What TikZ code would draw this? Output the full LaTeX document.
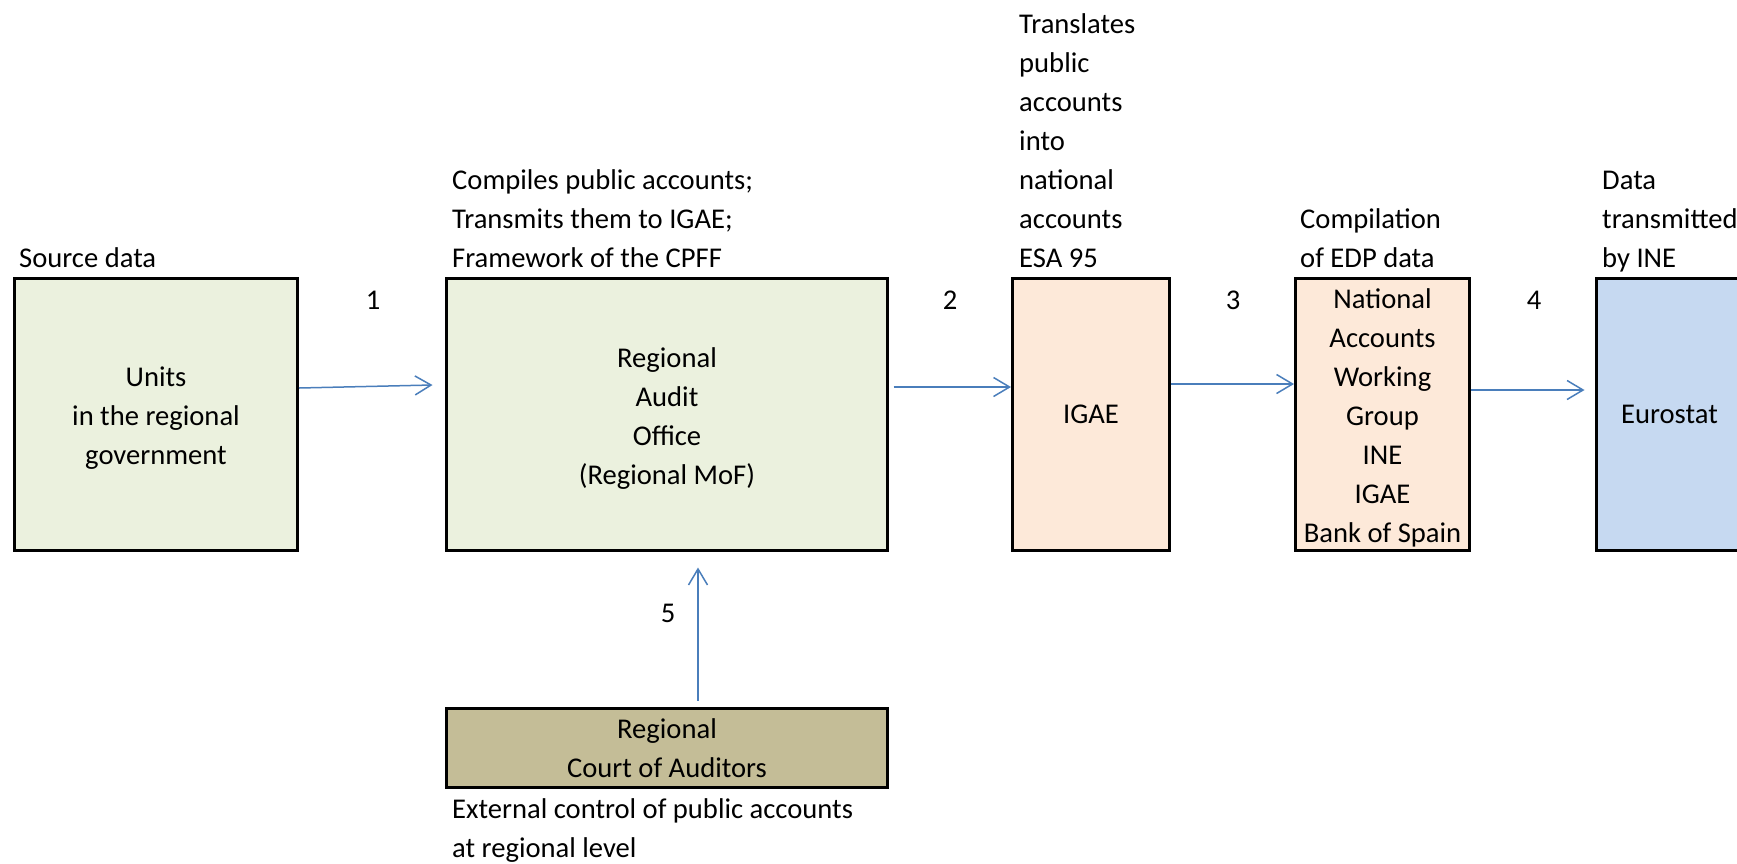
\documentclass[tikz,border=0pt]{standalone}
\usepackage{fontspec}
\setmainfont{Carlito}
\usetikzlibrary{arrows.meta,calc}
\definecolor{greenbox}{HTML}{EBF1DE}
\definecolor{peachbox}{HTML}{FDE9D9}
\definecolor{bluebox}{HTML}{C6D9F1}
\definecolor{courtbox}{HTML}{C4BD97}
\definecolor{arrowblue}{HTML}{4A7EBB}
\newcommand{\tallstrut}{\rule{0pt}{27pt}}
\begin{document}
\begin{tikzpicture}[x=1pt,y=-1pt,
  every node/.style={font=\fontsize{28.6}{39}\selectfont},
  box/.style={draw=black,line width=3pt,inner sep=0pt,align=center},
  lbl/.style={align=left,anchor=base west,inner sep=0pt},
  num/.style={inner sep=0pt},
  arr/.style={draw=arrowblue,line width=1.5pt,-{Straight Barb[length=16pt,width=19pt]}}]
\useasboundingbox (0,0) rectangle (1737,863);
\fill[white] (0,0) rectangle (1737,863);
% boxes
\node[box,fill=greenbox,minimum width=283pt,minimum height=272pt] (u) at (156,414.5) {\tallstrut Units\\in the regional\\government};
\node[box,fill=greenbox,minimum width=441pt,minimum height=272pt] (ro) at (667,414.5) {\tallstrut Regional\\Audit\\Office\\(Regional MoF)};
\node[box,fill=peachbox,minimum width=157pt,minimum height=272pt] (igae) at (1091,414.5) {IGAE};
\node[box,fill=peachbox,minimum width=174pt,minimum height=272pt] (nawg) at (1382.5,414.5) {\tallstrut National\\Accounts\\Working\\Group\\INE\\IGAE\\Bank of Spain};
\node[box,fill=bluebox,minimum width=146pt,minimum height=272pt] (euro) at (1669.5,414.5) {Eurostat};
\node[box,fill=courtbox,minimum width=441pt,minimum height=79pt] (court) at (667,748) {Regional\\Court of Auditors};
% descriptive texts (base anchor = last line)
\node[lbl] (t1) at (19,267) {Source data};
\node[lbl] (t2) at (452,267) {Compiles public accounts;\\Transmits them to IGAE;\\Framework of the CPFF};
\node[lbl] (t3) at (1019,267) {Translates\\public\\accounts\\into\\national\\accounts\\ESA 95};
\node[lbl] (t4) at (1300,267) {Compilation\\of EDP data};
\node[lbl] (t5) at (1602,267) {Data\\transmitted\\by INE};
\node[lbl] (t6) at (452,857) {External control of public accounts\\at regional level};
% numbers
\node[num] (n1) at (373,300) {1};
\node[num] (n2) at (950,300) {2};
\node[num] (n3) at (1233,300) {3};
\node[num] (n4) at (1534,300) {4};
\node[num] (n5) at (668,613) {5};
% arrows
\draw[arr] ([yshift=26.5pt]u.east) -- ([xshift=-12.5pt,yshift=29.5pt]ro.west);
\draw[arr] ([xshift=4.5pt,yshift=27.5pt]ro.east) -- ([yshift=27.5pt]igae.west);
\draw[arr] ([yshift=30.5pt]igae.east) -- ([yshift=30.5pt]nawg.west);
\draw[arr] ([yshift=24.5pt]nawg.east) -- ([xshift=-10.5pt,yshift=24.5pt]euro.west);
\draw[arr] ([xshift=31pt,yshift=6.5pt]court.north) -- ([xshift=31pt,yshift=-15.5pt]ro.south);
\end{tikzpicture}
\end{document}
